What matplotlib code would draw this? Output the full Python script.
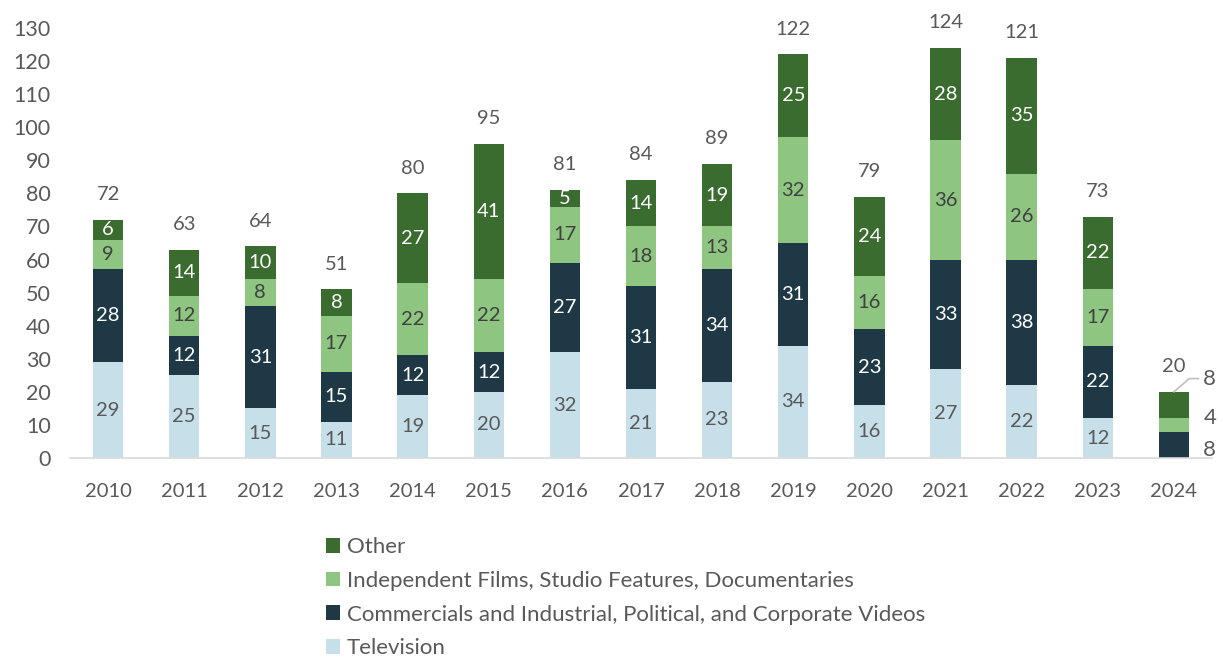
import matplotlib
matplotlib.use("Agg")
import matplotlib.pyplot as plt
import numpy as np
from matplotlib.patches import Patch

plt.rcParams['font.family'] = ['Lato', 'DejaVu Sans']

years = ["2010", "2011", "2012", "2013", "2014", "2015", "2016", "2017",
         "2018", "2019", "2020", "2021", "2022", "2023", "2024"]
television = [29, 25, 15, 11, 19, 20, 32, 21, 23, 34, 16, 27, 22, 12, 0]
commercials = [28, 12, 31, 15, 12, 12, 27, 31, 34, 31, 23, 33, 38, 22, 8]
independent = [9, 12, 8, 17, 22, 22, 17, 18, 13, 32, 16, 36, 26, 17, 4]
other = [6, 14, 10, 8, 27, 41, 5, 14, 19, 25, 24, 28, 35, 22, 8]
totals = [72, 63, 64, 51, 80, 95, 81, 84, 89, 122, 79, 124, 121, 73, 20]

series_names = ["Television",
                "Commercials and Industrial, Political, and Corporate Videos",
                "Independent Films, Studio Features, Documentaries",
                "Other"]
series_vals = [television, commercials, independent, other]
colors = ["#C6DFE8", "#1E3945", "#8DC581", "#3A6B2F"]
label_colors = ["#595959", "white", "#404040", "white"]

grey = "#595959"
fig = plt.figure(figsize=(12.23, 6.58), dpi=100)
ax = fig.add_axes([70/1223, 1-458/658, (1212-70)/1223, (458-28)/658])

x = np.arange(len(years))
bottom = np.zeros(len(years))
fs = 14.5
for vals, col, lc in zip(series_vals, colors, label_colors):
    v = np.array(vals, dtype=float)
    ax.bar(x, v, 0.4, bottom=bottom, color=col, edgecolor='none')
    for i in range(len(years)):
        if v[i] > 0 and years[i] != "2024":
            ax.text(x[i], bottom[i] + v[i]/2, f"{int(v[i])}", ha='center', va='center',
                    color=lc, fontsize=fs)
    bottom += v

# 2024 labels outside
i24 = years.index("2024")
b = 0
mids = []
for vals in [commercials, independent, other]:
    mids.append(b + vals[i24] / 2)
    b += vals[i24]
ax.text(x[i24] + 0.47, mids[0] - 1.5, f"{commercials[i24]}", ha='center', va='center', color=grey, fontsize=fs+1.5)
ax.text(x[i24] + 0.47, mids[1] + 2.2, f"{independent[i24]}", ha='center', va='center', color=grey, fontsize=fs+1.5)
ax.text(x[i24] + 0.47, 24, f"{other[i24]}", ha='center', va='center', color=grey, fontsize=fs+1.5)
ax.plot([x[i24], x[i24] + 0.2, x[i24] + 0.32], [totals[i24], 24, 24], color="#BFBFBF", lw=1.2, clip_on=False)

for i, t in enumerate(totals):
    ax.annotate(f"{t}", (x[i], t), xytext=(0, 12), textcoords='offset points',
                ha='center', va='bottom', color=grey, fontsize=fs)

ax.set_xlim(-0.5, len(years) - 0.5)
ax.set_ylim(0, 130)
ax.set_yticks(np.arange(0, 131, 10))
ax.set_xticks(x)
ax.set_xticklabels(years)
ax.tick_params(axis='both', length=0, labelsize=fs, labelcolor=grey)
ax.tick_params(axis='y', labelsize=15.5, pad=14)
ax.tick_params(axis='x', pad=18)
for s in ['top', 'right', 'left']:
    ax.spines[s].set_visible(False)
ax.spines['bottom'].set_color("#D9D9D9")
ax.spines['bottom'].set_linewidth(1.2)

handles = [Patch(facecolor=c, edgecolor='none') for c in colors[::-1]]
leg = fig.legend(handles, series_names[::-1], loc='upper left',
                 bbox_to_anchor=(326/1223, 1-537/658), frameon=False,
                 borderpad=0, borderaxespad=0,
                 fontsize=16, labelcolor=grey, handlelength=0.65, handleheight=0.65,
                 handletextpad=0.3, labelspacing=0.62)

fig.savefig("out.png", dpi=100)
